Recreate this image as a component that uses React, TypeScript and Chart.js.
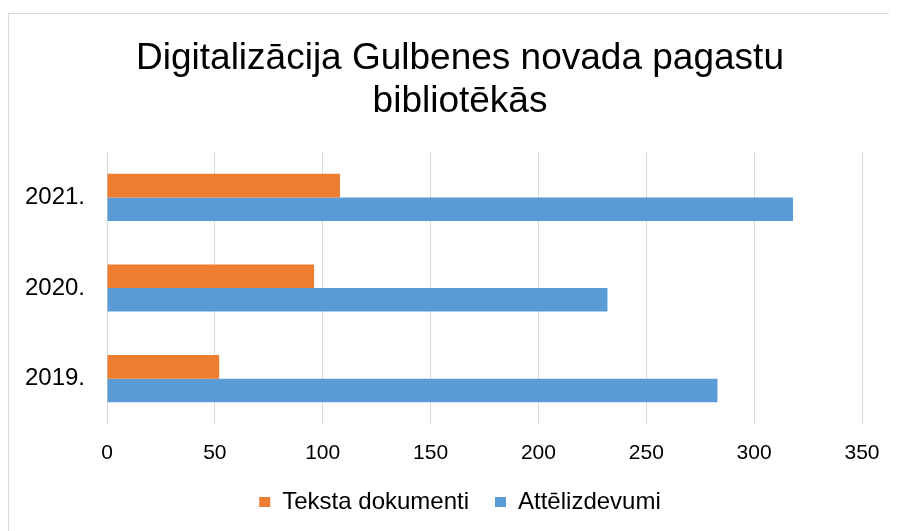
import React, { useEffect, useRef } from "react";
import { Chart, registerables } from "chart.js";

Chart.register(...registerables);

const titleLines = ["Digitalizācija Gulbenes novada pagastu", "bibliotēkās"];
const categories = ["2021.", "2020.", "2019."];
const seriesNames = ["Teksta dokumenti", "Attēlizdevumi"];
const tekstaDokumenti = [108, 96, 52];
const attelizdevumi = [318, 232, 283];
const xMin = 0;
const xMax = 350;
const xStep = 50;

const FONT = "'Liberation Sans', Arial, sans-serif";

export default function App() {
  const ref = useRef<HTMLCanvasElement | null>(null);

  useEffect(() => {
    if (!ref.current) return;
    const chart = new Chart(ref.current, {
      type: "bar",
      data: {
        labels: categories,
        datasets: [
          {
            label: seriesNames[0],
            data: tekstaDokumenti,
            backgroundColor: "#ED7D31",
            borderWidth: 0,
            yAxisID: "y",
          },
          {
            label: seriesNames[1],
            data: attelizdevumi,
            backgroundColor: "#5B9BD5",
            borderWidth: 0,
            yAxisID: "y",
          },
        ],
      },
      options: {
        indexAxis: "y",
        animation: false,
        responsive: true,
        maintainAspectRatio: false,
        datasets: { bar: { barPercentage: 1, categoryPercentage: 0.52 } },
        layout: { padding: { left: 0, right: 20, top: 0, bottom: 44 } },
        plugins: {
          title: {
            display: true,
            text: titleLines,
            color: "#000",
            font: { family: FONT, size: 37, weight: "normal", lineHeight: 1.15 },
            padding: { top: 30, bottom: 29 },
          },
          legend: {
            position: "bottom",
            labels: {
              color: "#000",
              font: { family: FONT, size: 24 },
              boxWidth: 11,
              boxHeight: 10,
              padding: 26,
            },
          },
          tooltip: { enabled: false },
        },
        scales: {
          x: {
            min: xMin,
            max: xMax,
            ticks: {
              stepSize: xStep,
              color: "#000",
              font: { family: FONT, size: 21 },
              padding: 17,
            },
            grid: { color: "#d9d9d9", lineWidth: 1, drawTicks: false },
            border: { display: false },
            afterFit: (scale: any) => {
              scale.height = 40;
            },
          },
          y: {
            position: "left",
            ticks: {
              color: "#000",
              font: { family: FONT, size: 24 },
              padding: 22,
            },
            grid: { display: false, drawTicks: false },
            border: { display: false },
            afterFit: (scale: any) => {
              scale.width = 99;
            },
          },
          ySpacer: {
            type: "category",
            position: "right",
            axis: "y",
            ticks: { display: false },
            grid: { display: false, drawTicks: false },
            border: { display: false },
            afterFit: (scale: any) => {
              scale.width = 50;
            },
          },
        },
      },
    });
    return () => chart.destroy();
  }, []);

  return (
    <div style={{ position: "relative", width: 889, height: 523, overflow: "hidden", background: "#fff" }}>
      <div
        style={{
          position: "absolute",
          left: 0,
          top: 5,
          width: 960,
          height: 600,
          borderLeft: "1px solid #d9d9d9",
          borderTop: "1px solid #d9d9d9",
          boxSizing: "border-box",
        }}
      />
      <div style={{ position: "absolute", left: 0, top: 0, width: 924, height: 560 }}>
        <canvas ref={ref} />
      </div>
    </div>
  );
}
